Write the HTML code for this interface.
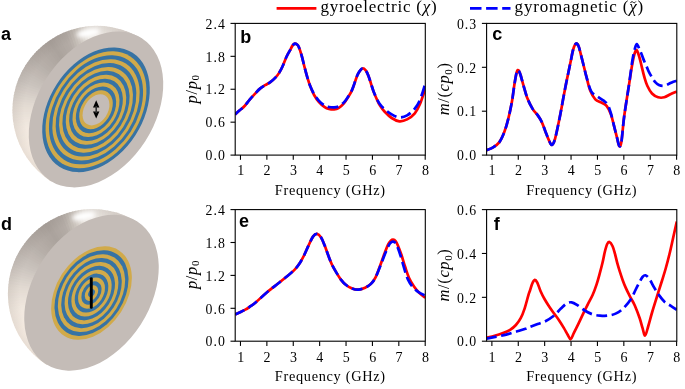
<!DOCTYPE html>
<html><head><meta charset="utf-8"><style>
html,body{margin:0;padding:0;background:#fff;}
#w{position:relative;width:685px;height:389px;overflow:hidden;background:#fff;}
svg{position:absolute;left:0;top:0;will-change:transform;}
text{font-family:"Liberation Serif",serif;fill:#000;}
.pl{font-family:"Liberation Sans",sans-serif;font-weight:bold;font-size:18px;}
.tk{font-size:13.8px;letter-spacing:1.0px;}
.tx{font-size:14px;}
.xl{font-size:14.3px;letter-spacing:0.7px;}
.yl{font-size:16.5px;letter-spacing:0.6px;}
.lg{font-size:17px;letter-spacing:0.8px;}
</style></head><body><div id="w">
<svg width="685" height="389" viewBox="0 0 685 389">
<defs><radialGradient id="rg" cx="0.5" cy="0.5" r="0.5"><stop offset="0" stop-color="#5a504b" stop-opacity="0"/><stop offset="0.858" stop-color="#5a504b" stop-opacity="0"/><stop offset="1" stop-color="#5a504b" stop-opacity="0.10"/></radialGradient><filter id="blur2" x="-50%" y="-50%" width="200%" height="200%"><feGaussianBlur stdDeviation="2.2"/></filter></defs>
<clipPath id="clipa"><path d="M142.78 39.25 A84.65 84.65 0 0 0 25.80 64.67 A84.65 84.65 0 0 0 51.22 181.65 Z"/></clipPath>
<g clip-path="url(#clipa)">
<path d="M97.00 110.45L146.95 38.42L143.37 36.07Z" fill="#d7d0ca"/>
<path d="M97.00 110.45L144.40 36.72L140.75 34.50Z" fill="#d8d1cb"/>
<path d="M97.00 110.45L141.80 35.12L138.07 33.02Z" fill="#d9d2cc"/>
<path d="M97.00 110.45L139.15 33.60L135.34 31.63Z" fill="#d9d2cc"/>
<path d="M97.00 110.45L136.44 32.17L132.57 30.34Z" fill="#dad3cd"/>
<path d="M97.00 110.45L133.68 30.84L129.75 29.15Z" fill="#dbd4ce"/>
<path d="M97.00 110.45L130.88 29.61L126.89 28.05Z" fill="#dcd5cf"/>
<path d="M97.00 110.45L128.04 28.48L124.00 27.06Z" fill="#ddd6d0"/>
<path d="M97.00 110.45L125.16 27.45L121.07 26.17Z" fill="#dfd8d2"/>
<path d="M97.00 110.45L122.25 26.51L118.12 25.38Z" fill="#e1dad4"/>
<path d="M97.00 110.45L119.30 25.68L115.13 24.70Z" fill="#e3dcd6"/>
<path d="M97.00 110.45L116.33 24.96L112.13 24.12Z" fill="#e4ded8"/>
<path d="M97.00 110.45L113.33 24.34L109.11 23.64Z" fill="#e6e0da"/>
<path d="M97.00 110.45L110.32 23.82L106.07 23.27Z" fill="#e8e2dd"/>
<path d="M97.00 110.45L107.29 23.41L103.02 23.01Z" fill="#eae5df"/>
<path d="M97.00 110.45L104.24 23.10L99.97 22.85Z" fill="#ece7e2"/>
<path d="M97.00 110.45L101.19 22.90L96.91 22.80Z" fill="#eee9e4"/>
<path d="M97.00 110.45L98.13 22.81L93.85 22.86Z" fill="#f0ebe6"/>
<path d="M97.00 110.45L95.07 22.82L90.79 23.02Z" fill="#ede8e3"/>
<path d="M97.00 110.45L92.02 22.94L87.75 23.29Z" fill="#ebe6e0"/>
<path d="M97.00 110.45L88.96 23.17L84.71 23.67Z" fill="#e8e3dd"/>
<path d="M97.00 110.45L85.92 23.50L81.69 24.15Z" fill="#e1dbd5"/>
<path d="M97.00 110.45L82.90 23.94L78.69 24.73Z" fill="#d9d3cc"/>
<path d="M97.00 110.45L79.89 24.49L75.71 25.43Z" fill="#d2cbc4"/>
<path d="M97.00 110.45L76.90 25.14L72.75 26.22Z" fill="#cbc4bd"/>
<path d="M97.00 110.45L73.93 25.89L69.83 27.12Z" fill="#c5beb7"/>
<path d="M97.00 110.45L70.99 26.75L66.94 28.12Z" fill="#bfb8b1"/>
<path d="M97.00 110.45L68.09 27.71L64.08 29.22Z" fill="#b9b1ab"/>
<path d="M97.00 110.45L65.22 28.77L61.27 30.42Z" fill="#b4aca6"/>
<path d="M97.00 110.45L62.39 29.92L58.49 31.71Z" fill="#b2aaa4"/>
<path d="M97.00 110.45L59.60 31.18L55.77 33.10Z" fill="#b1a9a3"/>
<path d="M97.00 110.45L56.85 32.53L53.10 34.59Z" fill="#afa7a1"/>
<path d="M97.00 110.45L54.16 33.98L50.47 36.17Z" fill="#aea6a0"/>
<path d="M97.00 110.45L51.52 35.52L47.91 37.84Z" fill="#aca49e"/>
<path d="M97.00 110.45L48.93 37.16L45.41 39.59Z" fill="#aba39d"/>
<path d="M97.00 110.45L46.40 38.88L42.96 41.44Z" fill="#ada59f"/>
<path d="M97.00 110.45L43.93 40.69L40.59 43.37Z" fill="#aea6a0"/>
<path d="M97.00 110.45L41.53 42.58L38.28 45.37Z" fill="#b0a8a2"/>
<path d="M97.00 110.45L39.20 44.56L36.05 47.46Z" fill="#b1a9a3"/>
<path d="M97.00 110.45L36.93 46.62L33.89 49.63Z" fill="#b3aba5"/>
<path d="M97.00 110.45L34.74 48.75L31.80 51.87Z" fill="#b4aca6"/>
<path d="M97.00 110.45L32.63 50.96L29.80 54.18Z" fill="#b6aea8"/>
<path d="M97.00 110.45L30.59 53.25L27.87 56.56Z" fill="#b7afa9"/>
<path d="M97.00 110.45L28.63 55.60L26.04 59.00Z" fill="#b9b2ac"/>
<path d="M97.00 110.45L26.76 58.02L24.28 61.51Z" fill="#bbb4ae"/>
<path d="M97.00 110.45L24.97 60.50L22.62 64.08Z" fill="#beb6b0"/>
<path d="M97.00 110.45L23.27 63.05L21.05 66.70Z" fill="#c0b8b2"/>
<path d="M97.00 110.45L21.67 65.65L19.57 69.38Z" fill="#c2bab4"/>
<path d="M97.00 110.45L20.15 68.30L18.18 72.11Z" fill="#c4bdb7"/>
<path d="M97.00 110.45L18.72 71.01L16.89 74.88Z" fill="#c6bfb9"/>
<path d="M97.00 110.45L17.39 73.77L15.70 77.70Z" fill="#c8c1bb"/>
<path d="M97.00 110.45L16.16 76.57L14.60 80.56Z" fill="#cac3bd"/>
<path d="M97.00 110.45L15.03 79.41L13.61 83.45Z" fill="#cdc6c0"/>
<path d="M97.00 110.45L14.00 82.29L12.72 86.38Z" fill="#d0c9c2"/>
<path d="M97.00 110.45L13.06 85.20L11.93 89.33Z" fill="#d3cbc5"/>
<path d="M97.00 110.45L12.23 88.15L11.25 92.32Z" fill="#d6cec7"/>
<path d="M97.00 110.45L11.51 91.12L10.67 95.32Z" fill="#d8d1ca"/>
<path d="M97.00 110.45L10.89 94.12L10.19 98.34Z" fill="#dbd4cc"/>
<path d="M97.00 110.45L10.37 97.13L9.82 101.38Z" fill="#ded6cf"/>
<path d="M97.00 110.45L9.96 100.16L9.56 104.43Z" fill="#e1d9d1"/>
<path d="M97.00 110.45L9.65 103.21L9.40 107.48Z" fill="#e3dbd3"/>
<path d="M97.00 110.45L9.45 106.26L9.35 110.54Z" fill="#e5ddd4"/>
<path d="M97.00 110.45L9.36 109.32L9.41 113.60Z" fill="#e7ded6"/>
<path d="M97.00 110.45L9.37 112.38L9.57 116.66Z" fill="#e8e0d8"/>
<path d="M97.00 110.45L9.49 115.43L9.84 119.70Z" fill="#eae2d9"/>
<path d="M97.00 110.45L9.72 118.49L10.22 122.74Z" fill="#ece3db"/>
<path d="M97.00 110.45L10.05 121.53L10.70 125.76Z" fill="#eee5dc"/>
<path d="M97.00 110.45L10.49 124.55L11.28 128.76Z" fill="#efe7de"/>
<path d="M97.00 110.45L11.04 127.56L11.98 131.74Z" fill="#f1e8df"/>
<path d="M97.00 110.45L11.69 130.55L12.77 134.70Z" fill="#f2e9e0"/>
<path d="M97.00 110.45L12.44 133.52L13.67 137.62Z" fill="#f3e9e0"/>
<path d="M97.00 110.45L13.30 136.46L14.67 140.51Z" fill="#f3eae1"/>
<path d="M97.00 110.45L14.26 139.36L15.77 143.37Z" fill="#f4ebe1"/>
<path d="M97.00 110.45L15.32 142.23L16.97 146.18Z" fill="#f5ebe2"/>
<path d="M97.00 110.45L16.47 145.06L18.26 148.96Z" fill="#f6ece2"/>
<path d="M97.00 110.45L17.73 147.85L19.65 151.68Z" fill="#f7ede3"/>
<path d="M97.00 110.45L19.08 150.60L21.14 154.35Z" fill="#f7ede4"/>
<path d="M97.00 110.45L20.53 153.29L22.72 156.98Z" fill="#f8eee4"/>
<path d="M97.00 110.45L22.07 155.93L24.39 159.54Z" fill="#f8eee4"/>
<path d="M97.00 110.45L23.71 158.52L26.14 162.04Z" fill="#f7ede4"/>
<path d="M97.00 110.45L25.43 161.05L27.99 164.49Z" fill="#f7ede3"/>
<path d="M97.00 110.45L27.24 163.52L29.92 166.86Z" fill="#f7ede3"/>
<path d="M97.00 110.45L29.13 165.92L31.92 169.17Z" fill="#f6ede3"/>
<path d="M97.00 110.45L31.11 168.25L34.01 171.40Z" fill="#f6ede3"/>
<path d="M97.00 110.45L33.17 170.52L36.18 173.56Z" fill="#f6ece3"/>
<path d="M97.00 110.45L35.30 172.71L38.42 175.65Z" fill="#f5ece3"/>
<path d="M97.00 110.45L37.51 174.82L40.73 177.65Z" fill="#f5ece3"/>
<path d="M97.00 110.45L39.80 176.86L43.11 179.58Z" fill="#f5ece2"/>
<path d="M97.00 110.45L42.15 178.82L45.55 181.41Z" fill="#f4ebe2"/>
<path d="M97.00 110.45L44.57 180.69L48.06 183.17Z" fill="#f4ebe2"/>
<path d="M97.00 110.45L47.05 182.48L50.63 184.83Z" fill="#f3ebe2"/>
<path d="M97.00 110.45L49.60 184.18L53.25 186.40Z" fill="#f3eae2"/>
<circle cx="97.00" cy="110.45" r="84.65" fill="url(#rg)"/>
</g>
<g clip-path="url(#clipa)"><ellipse cx="88.20" cy="32.95" rx="12" ry="4.2" transform="rotate(-10 88.20 32.95)" fill="#ffffff" filter="url(#blur2)"/></g>
<ellipse cx="96.00" cy="109.45" rx="58.57" ry="84.65" transform="rotate(32.74 96.00 109.45)" fill="#c4bcb7"/>
<ellipse cx="96.00" cy="109.80" rx="46.86" ry="67.72" transform="rotate(32.74 96.00 109.80)" fill="#3773a4"/>
<ellipse cx="96.00" cy="109.80" rx="43.93" ry="63.49" transform="rotate(32.74 96.00 109.80)" fill="#d1aa4a"/>
<ellipse cx="96.00" cy="109.80" rx="41.00" ry="59.26" transform="rotate(32.74 96.00 109.80)" fill="#3773a4"/>
<ellipse cx="96.00" cy="109.80" rx="38.07" ry="55.02" transform="rotate(32.74 96.00 109.80)" fill="#d1aa4a"/>
<ellipse cx="96.00" cy="109.80" rx="35.14" ry="50.79" transform="rotate(32.74 96.00 109.80)" fill="#3773a4"/>
<ellipse cx="96.00" cy="109.80" rx="32.21" ry="46.56" transform="rotate(32.74 96.00 109.80)" fill="#d1aa4a"/>
<ellipse cx="96.00" cy="109.80" rx="29.29" ry="42.33" transform="rotate(32.74 96.00 109.80)" fill="#3773a4"/>
<ellipse cx="96.00" cy="109.80" rx="26.36" ry="38.09" transform="rotate(32.74 96.00 109.80)" fill="#d1aa4a"/>
<ellipse cx="96.00" cy="109.80" rx="23.43" ry="33.86" transform="rotate(32.74 96.00 109.80)" fill="#3773a4"/>
<ellipse cx="96.00" cy="109.80" rx="20.50" ry="29.63" transform="rotate(32.74 96.00 109.80)" fill="#d1aa4a"/>
<ellipse cx="96.00" cy="109.80" rx="17.57" ry="25.39" transform="rotate(32.74 96.00 109.80)" fill="#3773a4"/>
<ellipse cx="96.00" cy="109.80" rx="14.64" ry="21.16" transform="rotate(32.74 96.00 109.80)" fill="#d1aa4a"/>
<ellipse cx="96.00" cy="109.80" rx="11.71" ry="16.93" transform="rotate(32.74 96.00 109.80)" fill="#c4bcb7"/>
<path d="M96.2 100.3 L93.0 107.4 L99.4 107.4 Z M96.2 118.6 L93.0 111.6 L99.4 111.6 Z" fill="#000"/>
<line x1="96.2" y1="106" x2="96.2" y2="113" stroke="#333" stroke-width="1.6"/>
<clipPath id="clipd"><path d="M138.28 222.55 A84.65 84.65 0 0 0 21.30 247.97 A84.65 84.65 0 0 0 46.72 364.95 Z"/></clipPath>
<g clip-path="url(#clipd)">
<path d="M92.50 293.75L142.45 221.72L138.87 219.37Z" fill="#d7d0ca"/>
<path d="M92.50 293.75L139.90 220.02L136.25 217.80Z" fill="#d8d1cb"/>
<path d="M92.50 293.75L137.30 218.42L133.57 216.32Z" fill="#d9d2cc"/>
<path d="M92.50 293.75L134.65 216.90L130.84 214.93Z" fill="#d9d2cc"/>
<path d="M92.50 293.75L131.94 215.47L128.07 213.64Z" fill="#dad3cd"/>
<path d="M92.50 293.75L129.18 214.14L125.25 212.45Z" fill="#dbd4ce"/>
<path d="M92.50 293.75L126.38 212.91L122.39 211.35Z" fill="#dcd5cf"/>
<path d="M92.50 293.75L123.54 211.78L119.50 210.36Z" fill="#ddd6d0"/>
<path d="M92.50 293.75L120.66 210.75L116.57 209.47Z" fill="#dfd8d2"/>
<path d="M92.50 293.75L117.75 209.81L113.62 208.68Z" fill="#e1dad4"/>
<path d="M92.50 293.75L114.80 208.98L110.63 208.00Z" fill="#e3dcd6"/>
<path d="M92.50 293.75L111.83 208.26L107.63 207.42Z" fill="#e4ded8"/>
<path d="M92.50 293.75L108.83 207.64L104.61 206.94Z" fill="#e6e0da"/>
<path d="M92.50 293.75L105.82 207.12L101.57 206.57Z" fill="#e8e2dd"/>
<path d="M92.50 293.75L102.79 206.71L98.52 206.31Z" fill="#eae5df"/>
<path d="M92.50 293.75L99.74 206.40L95.47 206.15Z" fill="#ece7e2"/>
<path d="M92.50 293.75L96.69 206.20L92.41 206.10Z" fill="#eee9e4"/>
<path d="M92.50 293.75L93.63 206.11L89.35 206.16Z" fill="#f0ebe6"/>
<path d="M92.50 293.75L90.57 206.12L86.29 206.32Z" fill="#ede8e3"/>
<path d="M92.50 293.75L87.52 206.24L83.25 206.59Z" fill="#ebe6e0"/>
<path d="M92.50 293.75L84.46 206.47L80.21 206.97Z" fill="#e8e3dd"/>
<path d="M92.50 293.75L81.42 206.80L77.19 207.45Z" fill="#e1dbd5"/>
<path d="M92.50 293.75L78.40 207.24L74.19 208.03Z" fill="#d9d3cc"/>
<path d="M92.50 293.75L75.39 207.79L71.21 208.73Z" fill="#d2cbc4"/>
<path d="M92.50 293.75L72.40 208.44L68.25 209.52Z" fill="#cbc4bd"/>
<path d="M92.50 293.75L69.43 209.19L65.33 210.42Z" fill="#c5beb7"/>
<path d="M92.50 293.75L66.49 210.05L62.44 211.42Z" fill="#bfb8b1"/>
<path d="M92.50 293.75L63.59 211.01L59.58 212.52Z" fill="#b9b1ab"/>
<path d="M92.50 293.75L60.72 212.07L56.77 213.72Z" fill="#b4aca6"/>
<path d="M92.50 293.75L57.89 213.22L53.99 215.01Z" fill="#b2aaa4"/>
<path d="M92.50 293.75L55.10 214.48L51.27 216.40Z" fill="#b1a9a3"/>
<path d="M92.50 293.75L52.35 215.83L48.60 217.89Z" fill="#afa7a1"/>
<path d="M92.50 293.75L49.66 217.28L45.97 219.47Z" fill="#aea6a0"/>
<path d="M92.50 293.75L47.02 218.82L43.41 221.14Z" fill="#aca49e"/>
<path d="M92.50 293.75L44.43 220.46L40.91 222.89Z" fill="#aba39d"/>
<path d="M92.50 293.75L41.90 222.18L38.46 224.74Z" fill="#ada59f"/>
<path d="M92.50 293.75L39.43 223.99L36.09 226.67Z" fill="#aea6a0"/>
<path d="M92.50 293.75L37.03 225.88L33.78 228.67Z" fill="#b0a8a2"/>
<path d="M92.50 293.75L34.70 227.86L31.55 230.76Z" fill="#b1a9a3"/>
<path d="M92.50 293.75L32.43 229.92L29.39 232.93Z" fill="#b3aba5"/>
<path d="M92.50 293.75L30.24 232.05L27.30 235.17Z" fill="#b4aca6"/>
<path d="M92.50 293.75L28.13 234.26L25.30 237.48Z" fill="#b6aea8"/>
<path d="M92.50 293.75L26.09 236.55L23.37 239.86Z" fill="#b7afa9"/>
<path d="M92.50 293.75L24.13 238.90L21.54 242.30Z" fill="#b9b2ac"/>
<path d="M92.50 293.75L22.26 241.32L19.78 244.81Z" fill="#bbb4ae"/>
<path d="M92.50 293.75L20.47 243.80L18.12 247.38Z" fill="#beb6b0"/>
<path d="M92.50 293.75L18.77 246.35L16.55 250.00Z" fill="#c0b8b2"/>
<path d="M92.50 293.75L17.17 248.95L15.07 252.68Z" fill="#c2bab4"/>
<path d="M92.50 293.75L15.65 251.60L13.68 255.41Z" fill="#c4bdb7"/>
<path d="M92.50 293.75L14.22 254.31L12.39 258.18Z" fill="#c6bfb9"/>
<path d="M92.50 293.75L12.89 257.07L11.20 261.00Z" fill="#c8c1bb"/>
<path d="M92.50 293.75L11.66 259.87L10.10 263.86Z" fill="#cac3bd"/>
<path d="M92.50 293.75L10.53 262.71L9.11 266.75Z" fill="#cdc6c0"/>
<path d="M92.50 293.75L9.50 265.59L8.22 269.68Z" fill="#d0c9c2"/>
<path d="M92.50 293.75L8.56 268.50L7.43 272.63Z" fill="#d3cbc5"/>
<path d="M92.50 293.75L7.73 271.45L6.75 275.62Z" fill="#d6cec7"/>
<path d="M92.50 293.75L7.01 274.42L6.17 278.62Z" fill="#d8d1ca"/>
<path d="M92.50 293.75L6.39 277.42L5.69 281.64Z" fill="#dbd4cc"/>
<path d="M92.50 293.75L5.87 280.43L5.32 284.68Z" fill="#ded6cf"/>
<path d="M92.50 293.75L5.46 283.46L5.06 287.73Z" fill="#e1d9d1"/>
<path d="M92.50 293.75L5.15 286.51L4.90 290.78Z" fill="#e3dbd3"/>
<path d="M92.50 293.75L4.95 289.56L4.85 293.84Z" fill="#e5ddd4"/>
<path d="M92.50 293.75L4.86 292.62L4.91 296.90Z" fill="#e7ded6"/>
<path d="M92.50 293.75L4.87 295.68L5.07 299.96Z" fill="#e8e0d8"/>
<path d="M92.50 293.75L4.99 298.73L5.34 303.00Z" fill="#eae2d9"/>
<path d="M92.50 293.75L5.22 301.79L5.72 306.04Z" fill="#ece3db"/>
<path d="M92.50 293.75L5.55 304.83L6.20 309.06Z" fill="#eee5dc"/>
<path d="M92.50 293.75L5.99 307.85L6.78 312.06Z" fill="#efe7de"/>
<path d="M92.50 293.75L6.54 310.86L7.48 315.04Z" fill="#f1e8df"/>
<path d="M92.50 293.75L7.19 313.85L8.27 318.00Z" fill="#f2e9e0"/>
<path d="M92.50 293.75L7.94 316.82L9.17 320.92Z" fill="#f3e9e0"/>
<path d="M92.50 293.75L8.80 319.76L10.17 323.81Z" fill="#f3eae1"/>
<path d="M92.50 293.75L9.76 322.66L11.27 326.67Z" fill="#f4ebe1"/>
<path d="M92.50 293.75L10.82 325.53L12.47 329.48Z" fill="#f5ebe2"/>
<path d="M92.50 293.75L11.97 328.36L13.76 332.26Z" fill="#f6ece2"/>
<path d="M92.50 293.75L13.23 331.15L15.15 334.98Z" fill="#f7ede3"/>
<path d="M92.50 293.75L14.58 333.90L16.64 337.65Z" fill="#f7ede4"/>
<path d="M92.50 293.75L16.03 336.59L18.22 340.28Z" fill="#f8eee4"/>
<path d="M92.50 293.75L17.57 339.23L19.89 342.84Z" fill="#f8eee4"/>
<path d="M92.50 293.75L19.21 341.82L21.64 345.34Z" fill="#f7ede4"/>
<path d="M92.50 293.75L20.93 344.35L23.49 347.79Z" fill="#f7ede3"/>
<path d="M92.50 293.75L22.74 346.82L25.42 350.16Z" fill="#f7ede3"/>
<path d="M92.50 293.75L24.63 349.22L27.42 352.47Z" fill="#f6ede3"/>
<path d="M92.50 293.75L26.61 351.55L29.51 354.70Z" fill="#f6ede3"/>
<path d="M92.50 293.75L28.67 353.82L31.68 356.86Z" fill="#f6ece3"/>
<path d="M92.50 293.75L30.80 356.01L33.92 358.95Z" fill="#f5ece3"/>
<path d="M92.50 293.75L33.01 358.12L36.23 360.95Z" fill="#f5ece3"/>
<path d="M92.50 293.75L35.30 360.16L38.61 362.88Z" fill="#f5ece2"/>
<path d="M92.50 293.75L37.65 362.12L41.05 364.71Z" fill="#f4ebe2"/>
<path d="M92.50 293.75L40.07 363.99L43.56 366.47Z" fill="#f4ebe2"/>
<path d="M92.50 293.75L42.55 365.78L46.13 368.13Z" fill="#f3ebe2"/>
<path d="M92.50 293.75L45.10 367.48L48.75 369.70Z" fill="#f3eae2"/>
<circle cx="92.50" cy="293.75" r="84.65" fill="url(#rg)"/>
</g>
<g clip-path="url(#clipd)"><ellipse cx="83.70" cy="216.25" rx="12" ry="4.2" transform="rotate(-10 83.70 216.25)" fill="#ffffff" filter="url(#blur2)"/></g>
<ellipse cx="91.50" cy="292.75" rx="58.57" ry="84.65" transform="rotate(32.74 91.50 292.75)" fill="#c4bcb7"/>
<ellipse cx="91.50" cy="293.10" rx="35.14" ry="50.79" transform="rotate(32.74 91.50 293.10)" fill="#d1aa4a"/>
<ellipse cx="91.50" cy="293.10" rx="32.21" ry="46.56" transform="rotate(32.74 91.50 293.10)" fill="#3773a4"/>
<ellipse cx="91.50" cy="293.10" rx="29.29" ry="42.33" transform="rotate(32.74 91.50 293.10)" fill="#d1aa4a"/>
<ellipse cx="91.50" cy="293.10" rx="26.36" ry="38.09" transform="rotate(32.74 91.50 293.10)" fill="#3773a4"/>
<ellipse cx="91.50" cy="293.10" rx="23.43" ry="33.86" transform="rotate(32.74 91.50 293.10)" fill="#d1aa4a"/>
<ellipse cx="91.50" cy="293.10" rx="20.50" ry="29.63" transform="rotate(32.74 91.50 293.10)" fill="#3773a4"/>
<ellipse cx="91.50" cy="293.10" rx="17.57" ry="25.40" transform="rotate(32.74 91.50 293.10)" fill="#d1aa4a"/>
<ellipse cx="91.50" cy="293.10" rx="14.64" ry="21.16" transform="rotate(32.74 91.50 293.10)" fill="#3773a4"/>
<ellipse cx="91.50" cy="293.10" rx="11.71" ry="16.93" transform="rotate(32.74 91.50 293.10)" fill="#d1aa4a"/>
<ellipse cx="91.50" cy="293.10" rx="8.79" ry="12.70" transform="rotate(32.74 91.50 293.10)" fill="#3773a4"/>
<ellipse cx="91.50" cy="293.10" rx="5.86" ry="8.47" transform="rotate(32.74 91.50 293.10)" fill="#d1aa4a"/>
<ellipse cx="91.50" cy="293.10" rx="2.93" ry="4.23" transform="rotate(32.74 91.50 293.10)" fill="#3773a4"/>
<line x1="91.3" y1="278.6" x2="91.3" y2="307.4" stroke="#000" stroke-width="2.9" stroke-linecap="round"/>
<clipPath id="ax23523"><rect x="235.2" y="23.4" width="190.10000000000002" height="131.7"/></clipPath>
<g clip-path="url(#ax23523)">
<path d="M235.00,114.60 C235.73,113.92 237.80,111.93 239.40,110.50 C241.00,109.07 242.88,107.82 244.60,106.00 C246.32,104.18 247.98,101.63 249.70,99.60 C251.42,97.57 253.18,95.63 254.90,93.80 C256.62,91.97 258.30,90.03 260.00,88.60 C261.70,87.17 263.38,86.27 265.10,85.20 C266.82,84.13 268.58,83.45 270.30,82.20 C272.02,80.95 273.90,79.30 275.40,77.70 C276.90,76.10 278.12,74.47 279.30,72.60 C280.48,70.73 281.32,69.10 282.50,66.50 C283.68,63.90 285.15,59.70 286.40,57.00 C287.65,54.30 288.98,52.20 290.00,50.30 C291.02,48.40 291.70,46.72 292.50,45.60 C293.30,44.48 294.05,43.78 294.80,43.60 C295.55,43.42 296.35,43.97 297.00,44.50 C297.65,45.03 297.93,44.98 298.70,46.80 C299.47,48.62 300.63,52.03 301.60,55.40 C302.57,58.77 303.53,63.30 304.50,67.00 C305.47,70.70 306.43,74.38 307.40,77.60 C308.37,80.82 309.18,83.40 310.30,86.30 C311.42,89.20 312.65,92.38 314.10,95.00 C315.55,97.62 317.23,99.98 319.00,102.00 C320.77,104.02 323.03,105.95 324.70,107.10 C326.37,108.25 327.45,108.52 329.00,108.90 C330.55,109.28 332.42,109.52 334.00,109.40 C335.58,109.28 336.85,109.20 338.50,108.20 C340.15,107.20 342.37,105.13 343.90,103.40 C345.43,101.67 346.42,99.83 347.70,97.80 C348.98,95.77 350.53,93.40 351.60,91.20 C352.67,89.00 353.25,86.98 354.10,84.60 C354.95,82.22 355.83,79.05 356.70,76.90 C357.57,74.75 358.33,73.10 359.30,71.70 C360.27,70.30 361.43,68.72 362.50,68.50 C363.57,68.28 364.73,69.23 365.70,70.40 C366.67,71.57 367.43,73.35 368.30,75.50 C369.17,77.65 370.05,80.70 370.90,83.30 C371.75,85.90 372.43,88.48 373.40,91.10 C374.37,93.72 375.60,96.58 376.70,99.00 C377.80,101.42 378.70,103.52 380.00,105.60 C381.30,107.68 382.55,109.43 384.50,111.50 C386.45,113.57 389.22,116.37 391.70,118.00 C394.18,119.63 396.83,121.07 399.40,121.30 C401.97,121.53 404.53,120.73 407.10,119.40 C409.67,118.07 412.65,115.87 414.80,113.30 C416.95,110.73 418.30,107.97 420.00,104.00 C421.70,100.03 424.17,91.92 425.00,89.50" fill="none" stroke="#ff0000" stroke-width="2.7" stroke-linejoin="round"/>
<path d="M235.00,114.60 C235.73,113.92 237.80,111.93 239.40,110.50 C241.00,109.07 242.88,107.82 244.60,106.00 C246.32,104.18 247.98,101.63 249.70,99.60 C251.42,97.57 253.18,95.63 254.90,93.80 C256.62,91.97 258.30,90.03 260.00,88.60 C261.70,87.17 263.38,86.27 265.10,85.20 C266.82,84.13 268.58,83.45 270.30,82.20 C272.02,80.95 273.90,79.30 275.40,77.70 C276.90,76.10 278.12,74.47 279.30,72.60 C280.48,70.73 281.32,69.10 282.50,66.50 C283.68,63.90 285.15,59.70 286.40,57.00 C287.65,54.30 288.98,52.20 290.00,50.30 C291.02,48.40 291.70,46.72 292.50,45.60 C293.30,44.48 294.05,43.78 294.80,43.60 C295.55,43.42 296.35,43.97 297.00,44.50 C297.65,45.03 297.93,44.98 298.70,46.80 C299.47,48.62 300.63,52.03 301.60,55.40 C302.57,58.77 303.53,63.30 304.50,67.00 C305.47,70.70 306.43,74.38 307.40,77.60 C308.37,80.82 309.18,83.55 310.30,86.30 C311.42,89.05 312.65,91.68 314.10,94.10 C315.55,96.52 317.23,98.88 319.00,100.80 C320.77,102.72 323.03,104.57 324.70,105.60 C326.37,106.63 327.45,106.70 329.00,107.00 C330.55,107.30 332.42,107.50 334.00,107.40 C335.58,107.30 336.85,107.23 338.50,106.40 C340.15,105.57 342.37,103.92 343.90,102.40 C345.43,100.88 346.42,99.22 347.70,97.30 C348.98,95.38 350.53,93.05 351.60,90.90 C352.67,88.75 353.25,86.77 354.10,84.40 C354.95,82.03 355.83,78.83 356.70,76.70 C357.57,74.57 358.33,72.98 359.30,71.60 C360.27,70.22 361.43,68.62 362.50,68.40 C363.57,68.18 364.73,69.13 365.70,70.30 C366.67,71.47 367.43,73.25 368.30,75.40 C369.17,77.55 370.05,80.62 370.90,83.20 C371.75,85.78 372.43,88.33 373.40,90.90 C374.37,93.47 375.60,96.37 376.70,98.60 C377.80,100.83 378.78,102.63 380.00,104.30 C381.22,105.97 382.05,106.92 384.00,108.60 C385.95,110.28 389.13,112.93 391.70,114.40 C394.27,115.87 396.83,117.23 399.40,117.40 C401.97,117.57 404.53,116.87 407.10,115.40 C409.67,113.93 412.65,111.20 414.80,108.60 C416.95,106.00 418.30,103.82 420.00,99.80 C421.70,95.78 424.17,87.05 425.00,84.50" fill="none" stroke="#0000ff" stroke-width="2.7" stroke-linejoin="round" stroke-dasharray="10.8 4.6" stroke-dashoffset="0.6"/>
</g>
<clipPath id="ax48623"><rect x="486.6" y="23.4" width="190.19999999999993" height="131.7"/></clipPath>
<g clip-path="url(#ax48623)">
<path d="M486.60,150.20 C487.62,149.77 490.60,148.90 492.70,147.60 C494.80,146.30 497.27,144.98 499.20,142.40 C501.13,139.82 502.80,135.97 504.30,132.10 C505.80,128.23 506.92,124.35 508.20,119.20 C509.48,114.05 510.93,107.20 512.00,101.20 C513.07,95.20 513.73,88.27 514.60,83.20 C515.47,78.13 516.33,72.52 517.20,70.80 C518.07,69.08 518.73,70.40 519.80,72.90 C520.87,75.40 522.32,81.52 523.60,85.80 C524.88,90.08 526.00,94.75 527.50,98.60 C529.00,102.45 530.88,106.10 532.60,108.90 C534.32,111.70 536.28,113.25 537.80,115.40 C539.32,117.55 540.43,119.13 541.70,121.80 C542.97,124.47 544.18,128.30 545.40,131.40 C546.62,134.50 547.92,138.13 549.00,140.40 C550.08,142.67 550.88,145.30 551.90,145.00 C552.92,144.70 553.78,143.27 555.10,138.60 C556.42,133.93 558.40,123.93 559.80,117.00 C561.20,110.07 562.43,102.67 563.50,97.00 C564.57,91.33 565.37,87.17 566.20,83.00 C567.03,78.83 567.73,75.70 568.50,72.00 C569.27,68.30 570.02,64.55 570.80,60.80 C571.58,57.05 572.35,52.37 573.20,49.50 C574.05,46.63 575.00,44.15 575.90,43.60 C576.80,43.05 577.77,44.35 578.60,46.20 C579.43,48.05 580.00,51.23 580.90,54.70 C581.80,58.17 583.07,63.28 584.00,67.00 C584.93,70.72 585.47,73.08 586.50,77.00 C587.53,80.92 588.73,86.78 590.20,90.50 C591.67,94.22 593.42,97.27 595.30,99.30 C597.18,101.33 599.62,101.62 601.50,102.70 C603.38,103.78 605.05,103.92 606.60,105.80 C608.15,107.68 609.58,110.73 610.80,114.00 C612.02,117.27 612.87,121.45 613.90,125.40 C614.93,129.35 616.10,134.27 617.00,137.70 C617.90,141.13 618.57,145.30 619.30,146.00 C620.03,146.70 620.58,146.85 621.40,141.90 C622.22,136.95 622.95,125.70 624.20,116.30 C625.45,106.90 627.55,94.22 628.90,85.50 C630.25,76.78 631.35,69.33 632.30,64.00 C633.25,58.67 633.85,55.80 634.60,53.50 C635.35,51.20 635.97,49.45 636.80,50.20 C637.63,50.95 638.75,55.15 639.60,58.00 C640.45,60.85 641.13,64.22 641.90,67.30 C642.67,70.38 643.30,73.42 644.20,76.50 C645.10,79.58 646.00,82.97 647.30,85.80 C648.60,88.63 650.20,91.58 652.00,93.50 C653.80,95.42 656.05,96.67 658.10,97.30 C660.15,97.93 662.25,97.82 664.30,97.30 C666.35,96.78 668.32,95.17 670.40,94.20 C672.48,93.23 675.73,91.95 676.80,91.50" fill="none" stroke="#ff0000" stroke-width="2.7" stroke-linejoin="round"/>
<path d="M486.60,150.20 C487.62,149.77 490.60,148.90 492.70,147.60 C494.80,146.30 497.27,144.98 499.20,142.40 C501.13,139.82 502.80,135.97 504.30,132.10 C505.80,128.23 506.92,124.35 508.20,119.20 C509.48,114.05 510.93,107.20 512.00,101.20 C513.07,95.20 513.73,88.27 514.60,83.20 C515.47,78.13 516.33,72.52 517.20,70.80 C518.07,69.08 518.73,70.40 519.80,72.90 C520.87,75.40 522.32,81.52 523.60,85.80 C524.88,90.08 526.00,94.75 527.50,98.60 C529.00,102.45 530.88,106.10 532.60,108.90 C534.32,111.70 536.28,113.25 537.80,115.40 C539.32,117.55 540.43,119.13 541.70,121.80 C542.97,124.47 544.18,128.30 545.40,131.40 C546.62,134.50 547.92,138.13 549.00,140.40 C550.08,142.67 550.88,145.30 551.90,145.00 C552.92,144.70 553.78,143.27 555.10,138.60 C556.42,133.93 558.40,123.93 559.80,117.00 C561.20,110.07 562.43,102.67 563.50,97.00 C564.57,91.33 565.37,87.17 566.20,83.00 C567.03,78.83 567.73,75.70 568.50,72.00 C569.27,68.30 570.02,64.55 570.80,60.80 C571.58,57.05 572.35,52.37 573.20,49.50 C574.05,46.63 575.00,44.15 575.90,43.60 C576.80,43.05 577.77,44.35 578.60,46.20 C579.43,48.05 580.00,51.23 580.90,54.70 C581.80,58.17 583.07,63.28 584.00,67.00 C584.93,70.72 585.30,72.95 586.50,77.00 C587.70,81.05 589.38,88.05 591.20,91.30 C593.02,94.55 595.33,94.95 597.40,96.50 C599.47,98.05 601.88,99.23 603.60,100.60 C605.32,101.97 606.50,102.63 607.70,104.70 C608.90,106.77 609.77,109.55 610.80,113.00 C611.83,116.45 612.87,121.28 613.90,125.40 C614.93,129.52 616.10,134.27 617.00,137.70 C617.90,141.13 618.57,145.30 619.30,146.00 C620.03,146.70 620.58,146.85 621.40,141.90 C622.22,136.95 622.95,125.70 624.20,116.30 C625.45,106.90 627.55,94.72 628.90,85.50 C630.25,76.28 631.32,67.08 632.30,61.00 C633.28,54.92 634.05,51.80 634.80,49.00 C635.55,46.20 636.00,44.10 636.80,44.20 C637.60,44.30 638.75,47.80 639.60,49.60 C640.45,51.40 641.13,53.08 641.90,55.00 C642.67,56.92 643.42,59.18 644.20,61.10 C644.98,63.02 645.82,64.70 646.60,66.50 C647.38,68.30 648.00,70.10 648.90,71.90 C649.80,73.70 650.98,75.63 652.00,77.30 C653.02,78.97 653.85,80.62 655.00,81.90 C656.15,83.18 657.48,84.35 658.90,85.00 C660.32,85.65 661.97,85.93 663.50,85.80 C665.03,85.67 666.55,84.85 668.10,84.20 C669.65,83.55 671.35,82.47 672.80,81.90 C674.25,81.33 676.13,80.98 676.80,80.80" fill="none" stroke="#0000ff" stroke-width="2.7" stroke-linejoin="round" stroke-dasharray="10.8 4.6" stroke-dashoffset="0.6"/>
</g>
<clipPath id="ax235209"><rect x="235.2" y="209.6" width="190.10000000000002" height="131.6"/></clipPath>
<g clip-path="url(#ax235209)">
<path d="M235.20,314.40 C236.00,314.03 238.32,312.98 240.00,312.20 C241.68,311.42 243.55,310.70 245.30,309.70 C247.05,308.70 248.78,307.40 250.50,306.20 C252.22,305.00 253.03,304.67 255.60,302.50 C258.17,300.33 262.47,296.12 265.90,293.20 C269.33,290.28 272.77,287.73 276.20,285.00 C279.63,282.27 283.42,279.37 286.50,276.80 C289.58,274.23 292.53,271.80 294.70,269.60 C296.87,267.40 297.95,265.95 299.50,263.60 C301.05,261.25 302.50,258.50 304.00,255.50 C305.50,252.50 307.00,248.75 308.50,245.60 C310.00,242.45 311.58,238.55 313.00,236.60 C314.42,234.65 315.65,233.75 317.00,233.90 C318.35,234.05 319.82,235.55 321.10,237.50 C322.38,239.45 323.50,242.60 324.70,245.60 C325.90,248.60 327.10,252.35 328.30,255.50 C329.50,258.65 330.55,261.65 331.90,264.50 C333.25,267.35 334.90,270.08 336.40,272.60 C337.90,275.12 339.33,277.57 340.90,279.60 C342.47,281.63 344.02,283.35 345.80,284.80 C347.58,286.25 349.52,287.48 351.60,288.30 C353.68,289.12 356.05,289.80 358.30,289.70 C360.55,289.60 363.00,288.67 365.10,287.70 C367.20,286.73 369.13,285.67 370.90,283.90 C372.67,282.13 374.18,280.08 375.70,277.10 C377.22,274.12 378.52,269.97 380.00,266.00 C381.48,262.03 383.22,256.93 384.60,253.30 C385.98,249.67 387.27,246.32 388.30,244.20 C389.33,242.08 390.00,241.37 390.80,240.60 C391.60,239.83 392.30,239.53 393.10,239.60 C393.90,239.67 394.82,240.07 395.60,241.00 C396.38,241.93 396.85,242.95 397.80,245.20 C398.75,247.45 400.07,250.87 401.30,254.50 C402.53,258.13 403.88,263.03 405.20,267.00 C406.52,270.97 407.73,275.05 409.20,278.30 C410.67,281.55 412.33,284.08 414.00,286.50 C415.67,288.92 417.32,290.92 419.20,292.80 C421.08,294.68 424.28,296.97 425.30,297.80" fill="none" stroke="#ff0000" stroke-width="2.7" stroke-linejoin="round"/>
<path d="M235.20,314.40 C236.00,314.03 238.32,312.98 240.00,312.20 C241.68,311.42 243.55,310.70 245.30,309.70 C247.05,308.70 248.78,307.40 250.50,306.20 C252.22,305.00 253.03,304.67 255.60,302.50 C258.17,300.33 262.47,296.12 265.90,293.20 C269.33,290.28 272.77,287.73 276.20,285.00 C279.63,282.27 283.42,279.37 286.50,276.80 C289.58,274.23 292.53,271.80 294.70,269.60 C296.87,267.40 297.95,265.95 299.50,263.60 C301.05,261.25 302.50,258.50 304.00,255.50 C305.50,252.50 307.00,248.75 308.50,245.60 C310.00,242.45 311.58,238.55 313.00,236.60 C314.42,234.65 315.65,233.75 317.00,233.90 C318.35,234.05 319.82,235.55 321.10,237.50 C322.38,239.45 323.50,242.60 324.70,245.60 C325.90,248.60 327.10,252.35 328.30,255.50 C329.50,258.65 330.55,261.65 331.90,264.50 C333.25,267.35 334.90,270.08 336.40,272.60 C337.90,275.12 339.33,277.57 340.90,279.60 C342.47,281.63 344.02,283.35 345.80,284.80 C347.58,286.25 349.52,287.48 351.60,288.30 C353.68,289.12 356.05,289.80 358.30,289.70 C360.55,289.60 363.00,288.67 365.10,287.70 C367.20,286.73 369.13,285.67 370.90,283.90 C372.67,282.13 374.10,280.17 375.70,277.10 C377.30,274.03 378.88,269.52 380.50,265.50 C382.12,261.48 383.95,256.48 385.40,253.00 C386.85,249.52 388.23,246.38 389.20,244.60 C390.17,242.82 390.55,242.80 391.20,242.30 C391.85,241.80 392.43,241.55 393.10,241.60 C393.77,241.65 394.57,241.98 395.20,242.60 C395.83,243.22 396.00,243.08 396.90,245.30 C397.80,247.52 399.38,252.05 400.60,255.90 C401.82,259.75 403.00,264.53 404.20,268.40 C405.40,272.27 406.40,276.03 407.80,279.10 C409.20,282.17 410.82,284.62 412.60,286.80 C414.38,288.98 416.38,290.75 418.50,292.20 C420.62,293.65 424.17,294.95 425.30,295.50" fill="none" stroke="#0000ff" stroke-width="2.7" stroke-linejoin="round" stroke-dasharray="10.8 4.6" stroke-dashoffset="0.6"/>
</g>
<clipPath id="ax486209"><rect x="486.6" y="209.6" width="190.19999999999993" height="131.6"/></clipPath>
<g clip-path="url(#ax486209)">
<path d="M486.60,337.70 C487.93,337.38 491.97,336.53 494.60,335.80 C497.23,335.07 499.82,334.30 502.40,333.30 C504.98,332.30 507.85,331.18 510.10,329.80 C512.35,328.42 514.13,326.93 515.90,325.00 C517.67,323.07 519.25,320.93 520.70,318.20 C522.15,315.47 523.32,312.45 524.60,308.60 C525.88,304.75 527.50,298.12 528.40,295.10 C529.30,292.08 529.35,292.43 530.00,290.50 C530.65,288.57 531.50,285.27 532.30,283.50 C533.10,281.73 533.97,280.05 534.80,279.90 C535.63,279.75 536.33,280.72 537.30,282.60 C538.27,284.48 539.40,288.47 540.60,291.20 C541.80,293.93 543.05,296.42 544.50,299.00 C545.95,301.58 547.70,304.28 549.30,306.70 C550.90,309.12 552.48,311.25 554.10,313.50 C555.72,315.75 557.38,317.80 559.00,320.20 C560.62,322.60 562.35,325.48 563.80,327.90 C565.25,330.32 566.57,332.80 567.70,334.70 C568.83,336.60 569.57,339.60 570.60,339.30 C571.63,339.00 572.58,335.52 573.90,332.90 C575.22,330.28 576.95,326.82 578.50,323.60 C580.05,320.38 581.65,316.82 583.20,313.60 C584.75,310.38 586.23,307.40 587.80,304.30 C589.37,301.20 591.13,298.32 592.60,295.00 C594.07,291.68 595.42,287.97 596.60,284.40 C597.78,280.83 598.72,277.20 599.70,273.60 C600.68,270.00 601.65,266.40 602.50,262.80 C603.35,259.20 604.03,255.08 604.80,252.00 C605.57,248.92 606.33,245.97 607.10,244.30 C607.87,242.63 608.48,241.68 609.40,242.00 C610.32,242.32 611.67,244.22 612.60,246.20 C613.53,248.18 614.22,251.07 615.00,253.90 C615.78,256.73 616.53,260.37 617.30,263.20 C618.07,266.03 618.70,268.07 619.60,270.90 C620.50,273.73 621.67,277.37 622.70,280.20 C623.73,283.03 624.78,285.58 625.80,287.90 C626.82,290.22 627.90,292.30 628.80,294.10 C629.70,295.90 630.20,296.80 631.20,298.70 C632.20,300.60 633.38,302.23 634.80,305.50 C636.22,308.77 638.42,314.57 639.70,318.30 C640.98,322.03 641.60,325.03 642.50,327.90 C643.40,330.77 644.13,335.82 645.10,335.50 C646.07,335.18 647.12,329.92 648.30,326.00 C649.48,322.08 650.75,316.92 652.20,312.00 C653.65,307.08 655.38,301.67 657.00,296.50 C658.62,291.33 660.45,285.67 661.90,281.00 C663.35,276.33 664.43,273.00 665.70,268.50 C666.97,264.00 668.28,259.00 669.50,254.00 C670.72,249.00 671.78,243.92 673.00,238.50 C674.22,233.08 676.17,224.33 676.80,221.50" fill="none" stroke="#ff0000" stroke-width="2.7" stroke-linejoin="round"/>
<path d="M486.60,338.60 C488.27,338.27 493.33,337.27 496.60,336.60 C499.87,335.93 502.98,335.42 506.20,334.60 C509.42,333.78 512.68,332.67 515.90,331.70 C519.12,330.73 523.15,329.58 525.50,328.80 C527.85,328.02 527.97,327.78 530.00,327.00 C532.03,326.22 535.13,325.07 537.70,324.10 C540.27,323.13 542.82,322.50 545.40,321.20 C547.98,319.90 550.62,318.40 553.20,316.30 C555.78,314.20 558.68,310.72 560.90,308.60 C563.12,306.48 564.72,304.65 566.50,303.60 C568.28,302.55 569.85,302.10 571.60,302.30 C573.35,302.50 574.82,303.43 577.00,304.80 C579.18,306.17 582.13,308.92 584.70,310.50 C587.27,312.08 589.85,313.45 592.40,314.30 C594.95,315.15 597.42,315.38 600.00,315.60 C602.58,315.82 605.30,315.93 607.90,315.60 C610.50,315.27 613.03,314.80 615.60,313.60 C618.17,312.40 620.70,310.88 623.30,308.40 C625.90,305.92 629.25,301.60 631.20,298.70 C633.15,295.80 633.58,293.83 635.00,291.00 C636.42,288.17 638.45,284.03 639.70,281.70 C640.95,279.37 641.55,278.07 642.50,277.00 C643.45,275.93 644.27,275.02 645.40,275.30 C646.53,275.58 647.85,276.68 649.30,278.70 C650.75,280.72 652.48,284.67 654.10,287.40 C655.72,290.13 657.23,292.68 659.00,295.10 C660.77,297.52 662.78,300.13 664.70,301.90 C666.62,303.67 668.48,304.38 670.50,305.70 C672.52,307.02 675.75,309.12 676.80,309.80" fill="none" stroke="#0000ff" stroke-width="2.7" stroke-linejoin="round" stroke-dasharray="10.8 4.6" stroke-dashoffset="0.6"/>
</g>
<rect x="235.2" y="23.4" width="190.10000000000002" height="131.7" fill="none" stroke="#000" stroke-width="1.1"/>
<line x1="240.48" y1="155.1" x2="240.48" y2="159.79999999999998" stroke="#000" stroke-width="1.1"/>
<text x="240.68" y="175.4" text-anchor="middle" class="tx">1</text>
<line x1="266.87" y1="155.1" x2="266.87" y2="159.79999999999998" stroke="#000" stroke-width="1.1"/>
<text x="267.07" y="175.4" text-anchor="middle" class="tx">2</text>
<line x1="293.26" y1="155.1" x2="293.26" y2="159.79999999999998" stroke="#000" stroke-width="1.1"/>
<text x="293.46" y="175.4" text-anchor="middle" class="tx">3</text>
<line x1="319.65" y1="155.1" x2="319.65" y2="159.79999999999998" stroke="#000" stroke-width="1.1"/>
<text x="319.85" y="175.4" text-anchor="middle" class="tx">4</text>
<line x1="346.04" y1="155.1" x2="346.04" y2="159.79999999999998" stroke="#000" stroke-width="1.1"/>
<text x="346.24" y="175.4" text-anchor="middle" class="tx">5</text>
<line x1="372.43" y1="155.1" x2="372.43" y2="159.79999999999998" stroke="#000" stroke-width="1.1"/>
<text x="372.63" y="175.4" text-anchor="middle" class="tx">6</text>
<line x1="398.82" y1="155.1" x2="398.82" y2="159.79999999999998" stroke="#000" stroke-width="1.1"/>
<text x="399.02" y="175.4" text-anchor="middle" class="tx">7</text>
<line x1="425.21" y1="155.1" x2="425.21" y2="159.79999999999998" stroke="#000" stroke-width="1.1"/>
<text x="425.41" y="175.4" text-anchor="middle" class="tx">8</text>
<line x1="230.5" y1="155.10" x2="235.2" y2="155.10" stroke="#000" stroke-width="1.1"/>
<text x="225.80" y="160.30" text-anchor="end" class="tk">0.0</text>
<line x1="230.5" y1="122.17" x2="235.2" y2="122.17" stroke="#000" stroke-width="1.1"/>
<text x="225.80" y="127.38" text-anchor="end" class="tk">0.6</text>
<line x1="230.5" y1="89.25" x2="235.2" y2="89.25" stroke="#000" stroke-width="1.1"/>
<text x="225.80" y="94.45" text-anchor="end" class="tk">1.2</text>
<line x1="230.5" y1="56.33" x2="235.2" y2="56.33" stroke="#000" stroke-width="1.1"/>
<text x="225.80" y="61.53" text-anchor="end" class="tk">1.8</text>
<line x1="230.5" y1="23.40" x2="235.2" y2="23.40" stroke="#000" stroke-width="1.1"/>
<text x="225.80" y="28.60" text-anchor="end" class="tk">2.4</text>
<text x="330.25" y="194.7" text-anchor="middle" class="xl">Frequency (GHz)</text>
<rect x="486.6" y="23.4" width="190.19999999999993" height="131.7" fill="none" stroke="#000" stroke-width="1.1"/>
<line x1="491.88" y1="155.1" x2="491.88" y2="159.79999999999998" stroke="#000" stroke-width="1.1"/>
<text x="492.08" y="175.4" text-anchor="middle" class="tx">1</text>
<line x1="518.27" y1="155.1" x2="518.27" y2="159.79999999999998" stroke="#000" stroke-width="1.1"/>
<text x="518.47" y="175.4" text-anchor="middle" class="tx">2</text>
<line x1="544.66" y1="155.1" x2="544.66" y2="159.79999999999998" stroke="#000" stroke-width="1.1"/>
<text x="544.86" y="175.4" text-anchor="middle" class="tx">3</text>
<line x1="571.05" y1="155.1" x2="571.05" y2="159.79999999999998" stroke="#000" stroke-width="1.1"/>
<text x="571.25" y="175.4" text-anchor="middle" class="tx">4</text>
<line x1="597.44" y1="155.1" x2="597.44" y2="159.79999999999998" stroke="#000" stroke-width="1.1"/>
<text x="597.64" y="175.4" text-anchor="middle" class="tx">5</text>
<line x1="623.83" y1="155.1" x2="623.83" y2="159.79999999999998" stroke="#000" stroke-width="1.1"/>
<text x="624.03" y="175.4" text-anchor="middle" class="tx">6</text>
<line x1="650.22" y1="155.1" x2="650.22" y2="159.79999999999998" stroke="#000" stroke-width="1.1"/>
<text x="650.42" y="175.4" text-anchor="middle" class="tx">7</text>
<line x1="676.61" y1="155.1" x2="676.61" y2="159.79999999999998" stroke="#000" stroke-width="1.1"/>
<text x="676.81" y="175.4" text-anchor="middle" class="tx">8</text>
<line x1="481.90000000000003" y1="155.10" x2="486.6" y2="155.10" stroke="#000" stroke-width="1.1"/>
<text x="477.20" y="160.30" text-anchor="end" class="tk">0.0</text>
<line x1="481.90000000000003" y1="111.20" x2="486.6" y2="111.20" stroke="#000" stroke-width="1.1"/>
<text x="477.20" y="116.40" text-anchor="end" class="tk">0.1</text>
<line x1="481.90000000000003" y1="67.30" x2="486.6" y2="67.30" stroke="#000" stroke-width="1.1"/>
<text x="477.20" y="72.50" text-anchor="end" class="tk">0.2</text>
<line x1="481.90000000000003" y1="23.40" x2="486.6" y2="23.40" stroke="#000" stroke-width="1.1"/>
<text x="477.20" y="28.60" text-anchor="end" class="tk">0.3</text>
<text x="581.70" y="194.7" text-anchor="middle" class="xl">Frequency (GHz)</text>
<rect x="235.2" y="209.6" width="190.10000000000002" height="131.6" fill="none" stroke="#000" stroke-width="1.1"/>
<line x1="240.48" y1="341.2" x2="240.48" y2="345.9" stroke="#000" stroke-width="1.1"/>
<text x="240.68" y="361.5" text-anchor="middle" class="tx">1</text>
<line x1="266.87" y1="341.2" x2="266.87" y2="345.9" stroke="#000" stroke-width="1.1"/>
<text x="267.07" y="361.5" text-anchor="middle" class="tx">2</text>
<line x1="293.26" y1="341.2" x2="293.26" y2="345.9" stroke="#000" stroke-width="1.1"/>
<text x="293.46" y="361.5" text-anchor="middle" class="tx">3</text>
<line x1="319.65" y1="341.2" x2="319.65" y2="345.9" stroke="#000" stroke-width="1.1"/>
<text x="319.85" y="361.5" text-anchor="middle" class="tx">4</text>
<line x1="346.04" y1="341.2" x2="346.04" y2="345.9" stroke="#000" stroke-width="1.1"/>
<text x="346.24" y="361.5" text-anchor="middle" class="tx">5</text>
<line x1="372.43" y1="341.2" x2="372.43" y2="345.9" stroke="#000" stroke-width="1.1"/>
<text x="372.63" y="361.5" text-anchor="middle" class="tx">6</text>
<line x1="398.82" y1="341.2" x2="398.82" y2="345.9" stroke="#000" stroke-width="1.1"/>
<text x="399.02" y="361.5" text-anchor="middle" class="tx">7</text>
<line x1="425.21" y1="341.2" x2="425.21" y2="345.9" stroke="#000" stroke-width="1.1"/>
<text x="425.41" y="361.5" text-anchor="middle" class="tx">8</text>
<line x1="230.5" y1="341.20" x2="235.2" y2="341.20" stroke="#000" stroke-width="1.1"/>
<text x="225.80" y="346.40" text-anchor="end" class="tk">0.0</text>
<line x1="230.5" y1="308.30" x2="235.2" y2="308.30" stroke="#000" stroke-width="1.1"/>
<text x="225.80" y="313.50" text-anchor="end" class="tk">0.6</text>
<line x1="230.5" y1="275.40" x2="235.2" y2="275.40" stroke="#000" stroke-width="1.1"/>
<text x="225.80" y="280.60" text-anchor="end" class="tk">1.2</text>
<line x1="230.5" y1="242.50" x2="235.2" y2="242.50" stroke="#000" stroke-width="1.1"/>
<text x="225.80" y="247.70" text-anchor="end" class="tk">1.8</text>
<line x1="230.5" y1="209.60" x2="235.2" y2="209.60" stroke="#000" stroke-width="1.1"/>
<text x="225.80" y="214.80" text-anchor="end" class="tk">2.4</text>
<text x="330.25" y="380.8" text-anchor="middle" class="xl">Frequency (GHz)</text>
<rect x="486.6" y="209.6" width="190.19999999999993" height="131.6" fill="none" stroke="#000" stroke-width="1.1"/>
<line x1="491.88" y1="341.2" x2="491.88" y2="345.9" stroke="#000" stroke-width="1.1"/>
<text x="492.08" y="361.5" text-anchor="middle" class="tx">1</text>
<line x1="518.27" y1="341.2" x2="518.27" y2="345.9" stroke="#000" stroke-width="1.1"/>
<text x="518.47" y="361.5" text-anchor="middle" class="tx">2</text>
<line x1="544.66" y1="341.2" x2="544.66" y2="345.9" stroke="#000" stroke-width="1.1"/>
<text x="544.86" y="361.5" text-anchor="middle" class="tx">3</text>
<line x1="571.05" y1="341.2" x2="571.05" y2="345.9" stroke="#000" stroke-width="1.1"/>
<text x="571.25" y="361.5" text-anchor="middle" class="tx">4</text>
<line x1="597.44" y1="341.2" x2="597.44" y2="345.9" stroke="#000" stroke-width="1.1"/>
<text x="597.64" y="361.5" text-anchor="middle" class="tx">5</text>
<line x1="623.83" y1="341.2" x2="623.83" y2="345.9" stroke="#000" stroke-width="1.1"/>
<text x="624.03" y="361.5" text-anchor="middle" class="tx">6</text>
<line x1="650.22" y1="341.2" x2="650.22" y2="345.9" stroke="#000" stroke-width="1.1"/>
<text x="650.42" y="361.5" text-anchor="middle" class="tx">7</text>
<line x1="676.61" y1="341.2" x2="676.61" y2="345.9" stroke="#000" stroke-width="1.1"/>
<text x="676.81" y="361.5" text-anchor="middle" class="tx">8</text>
<line x1="481.90000000000003" y1="341.20" x2="486.6" y2="341.20" stroke="#000" stroke-width="1.1"/>
<text x="477.20" y="346.40" text-anchor="end" class="tk">0.0</text>
<line x1="481.90000000000003" y1="297.33" x2="486.6" y2="297.33" stroke="#000" stroke-width="1.1"/>
<text x="477.20" y="302.53" text-anchor="end" class="tk">0.2</text>
<line x1="481.90000000000003" y1="253.47" x2="486.6" y2="253.47" stroke="#000" stroke-width="1.1"/>
<text x="477.20" y="258.67" text-anchor="end" class="tk">0.4</text>
<line x1="481.90000000000003" y1="209.60" x2="486.6" y2="209.60" stroke="#000" stroke-width="1.1"/>
<text x="477.20" y="214.80" text-anchor="end" class="tk">0.6</text>
<text x="581.70" y="380.8" text-anchor="middle" class="xl">Frequency (GHz)</text>
<text x="1.0" y="39.6" class="pl">a</text>
<text x="240.3" y="42.9" class="pl">b</text>
<text x="492.2" y="39.8" class="pl">c</text>
<text x="0.9" y="230.0" class="pl">d</text>
<text x="238.9" y="226.5" class="pl">e</text>
<text x="493.8" y="230.1" class="pl">f</text>
<text transform="translate(196.6 88.9) rotate(-90)" text-anchor="middle" class="yl"><tspan font-style="italic">p</tspan>/<tspan font-style="italic">p</tspan><tspan font-size="11" dy="2.5">0</tspan></text>
<text transform="translate(449.3 88.9) rotate(-90)" text-anchor="middle" class="yl"><tspan font-style="italic">m</tspan>/(<tspan font-style="italic">cp</tspan><tspan font-size="11" dy="2.5">0</tspan><tspan dy="-2.5">)</tspan></text>
<text transform="translate(196.6 274.5) rotate(-90)" text-anchor="middle" class="yl"><tspan font-style="italic">p</tspan>/<tspan font-style="italic">p</tspan><tspan font-size="11" dy="2.5">0</tspan></text>
<text transform="translate(449.3 275) rotate(-90)" text-anchor="middle" class="yl"><tspan font-style="italic">m</tspan>/(<tspan font-style="italic">cp</tspan><tspan font-size="11" dy="2.5">0</tspan><tspan dy="-2.5">)</tspan></text>
<line x1="276.6" y1="8.3" x2="316.4" y2="8.3" stroke="#ff0000" stroke-width="2.7"/>
<text x="320.5" y="12.3" class="lg">gyroelectric (<tspan font-style="italic">χ</tspan>)</text>
<line x1="470" y1="8.4" x2="510.5" y2="8.4" stroke="#0000ff" stroke-width="2.7" stroke-dasharray="11.5 4.6"/>
<text x="514.6" y="12.3" class="lg">gyromagnetic (<tspan font-style="italic">χ</tspan>)</text>
<path d="M630.4 3.1 C631.2 1.4, 632.3 1.5, 633.1 2.2 S634.8 3.2, 635.8 1.5" stroke="#000" stroke-width="0.95" fill="none"/>
</svg></div></body></html>
